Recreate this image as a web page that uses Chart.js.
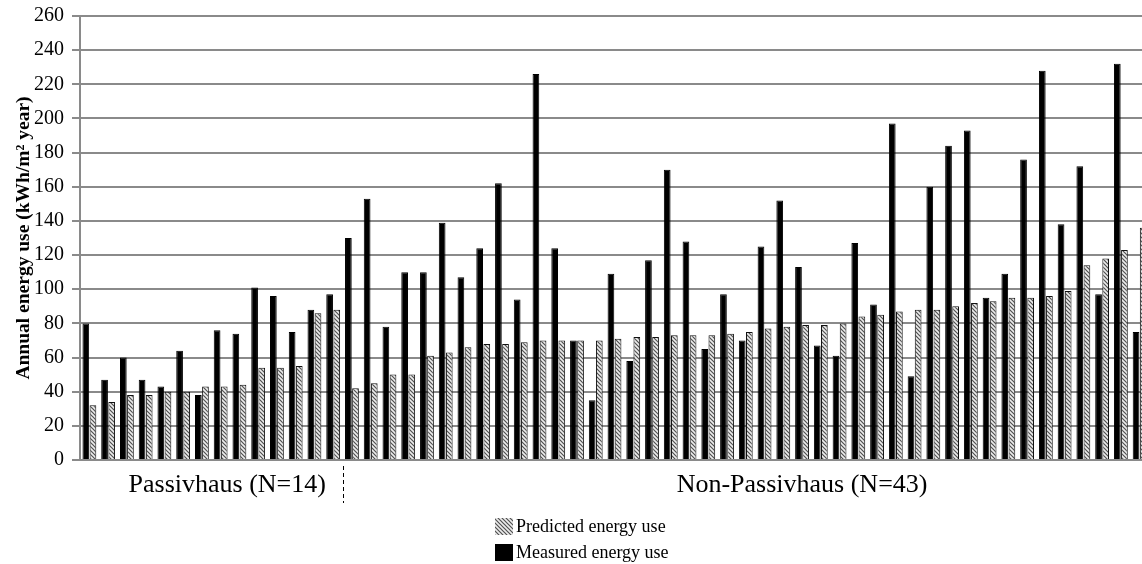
<!DOCTYPE html>
<html>
<head>
<meta charset="utf-8">
<script src="https://cdn.jsdelivr.net/npm/chart.js@4/dist/chart.umd.min.js"></script>
<style>
    html, body { margin: 0; padding: 0; background: #fff; overflow: hidden; }
    #wrap { width: 1152px; height: 564px; }
</style>
</head>
<body>
<div id="wrap"><canvas id="energyChart"></canvas></div>
<script>
// buildings, Passivhaus first then the rest
const buildings = [
    'P01', 'P02', 'P03', 'P04', 'P05', 'P06', 'P07', 'P08', 'P09', 'P10', 'P11', 'P12', 'P13', 'P14',
    'N01', 'N02', 'N03', 'N04', 'N05', 'N06', 'N07', 'N08', 'N09', 'N10', 'N11', 'N12', 'N13', 'N14',
    'N15', 'N16', 'N17', 'N18', 'N19', 'N20', 'N21', 'N22', 'N23', 'N24', 'N25', 'N26', 'N27', 'N28',
    'N29', 'N30', 'N31', 'N32', 'N33', 'N34', 'N35', 'N36', 'N37', 'N38', 'N39', 'N40', 'N41', 'N42', 'N43'
];

const measured = [
    80, 47, 60, 47, 43, 64, 38, 76, 74, 101, 96, 75, 88, 97,
    130, 153, 78, 110, 110, 139, 107, 124, 162, 94, 226, 124, 70, 35,
    109, 58, 117, 170, 128, 65, 97, 70, 125, 152, 113, 67, 61, 127,
    91, 197, 49, 160, 184, 193, 95, 109, 176, 228, 138, 172, 97, 232, 75
];

const predicted = [
    32, 34, 38, 38, 40, 40, 43, 43, 44, 54, 54, 55, 86, 88,
    42, 45, 50, 50, 61, 63, 66, 68, 68, 69, 70, 70, 70, 70,
    71, 72, 72, 73, 73, 73, 74, 75, 77, 78, 79, 79, 80, 84,
    85, 87, 88, 88, 90, 92, 93, 95, 95, 96, 99, 114, 118, 123, 136
];

const groupNames = ['Passivhaus (N=14)', 'Non-Passivhaus (N=43)'];
const groupSizes = [14, 43];
const yTicks = [0, 20, 40, 60, 80, 100, 120, 140, 160, 180, 200, 220, 240, 260];

const SERIF = '"Liberation Serif", "Times New Roman", serif';
const GRID = '#8a8a8a';

function makeHatch() {
    const c = document.createElement('canvas');
    c.width = 4;
    c.height = 4;
    const g = c.getContext('2d');
    g.fillStyle = '#ececec';
    g.fillRect(0, 0, 4, 4);
    g.strokeStyle = '#505050';
    g.lineWidth = 1.2;
    g.beginPath();
    g.moveTo(-1, -1); g.lineTo(5, 5);
    g.moveTo(-1, 3); g.lineTo(1, 5);
    g.moveTo(3, -1); g.lineTo(5, 1);
    g.stroke();
    return g.createPattern(c, 'repeat');
}

const hatch = makeHatch();

const extras = {
    id: 'extras',
    afterDraw(chart) {
        const { ctx, chartArea } = chart;
        const x = chart.scales.x;
        ctx.save();

        // group captions under the axis
        ctx.fillStyle = '#000';
        ctx.font = '26px ' + SERIF;
        ctx.textAlign = 'center';
        ctx.textBaseline = 'middle';
        ctx.fillText(groupNames[0], x.getPixelForValue(7.35), 485);
        ctx.fillText(groupNames[1], x.getPixelForValue(38.0), 485);

        // dashed divider between the two groups
        const xd = Math.round((x.getPixelForValue(groupSizes[0] - 1) + x.getPixelForValue(groupSizes[0])) / 2) + 0.5;
        ctx.strokeStyle = '#000';
        ctx.lineWidth = 1;
        ctx.setLineDash([4, 3]);
        ctx.beginPath();
        ctx.moveTo(xd, chartArea.bottom + 6);
        ctx.lineTo(xd, 503);
        ctx.stroke();
        ctx.setLineDash([]);

        // legend, stacked, predicted first
        ctx.font = '18px ' + SERIF;
        ctx.textAlign = 'left';
        const items = chart.data.datasets.slice().reverse();
        items.forEach((ds, i) => {
            const yy = 527 + i * 26;
            ctx.fillStyle = ds.backgroundColor;
            ctx.fillRect(495, yy - 9, 18, 17);
            ctx.fillStyle = '#000';
            ctx.fillText(ds.label, 516, yy);
        });
        ctx.restore();
    }
};

const ctx = document.getElementById('energyChart').getContext('2d');
new Chart(ctx, {
    type: 'bar',
    data: {
        labels: buildings,
        datasets: [{
            label: 'Measured energy use',
            data: measured,
            backgroundColor: '#000',
            borderColor: '#000',
            borderWidth: 1,
            barPercentage: 0.94,
            categoryPercentage: 0.76
        }, {
            label: 'Predicted energy use',
            data: predicted,
            backgroundColor: hatch,
            borderColor: '#111',
            borderWidth: 1,
            barPercentage: 0.94,
            categoryPercentage: 0.76
        }]
    },
    options: {
        responsive: true,
        maintainAspectRatio: false,
        animation: false,
        layout: { padding: { top: 16, right: 3, left: 0, bottom: 0 } },
        plugins: {
            legend: { display: false },
            tooltip: { enabled: false }
        },
        scales: {
            x: {
                grid: { display: false, drawTicks: false },
                border: { display: true, color: GRID, width: 2 },
                ticks: { display: false },
                afterFit: s => { s.height = 104; }
            },
            y: {
                min: 0,
                max: 260,
                afterBuildTicks: s => { s.ticks = yTicks.map(v => ({ value: v })); },
                afterFit: s => {
                    s.width = 80;
                    s.paddingTop = 0;
                    s.paddingBottom = 0;
                },
                grid: { color: GRID, lineWidth: 2, tickLength: 8 },
                border: { display: true, color: GRID, width: 2 },
                ticks: {
                    color: '#000',
                    padding: 8,
                    font: { family: SERIF, size: 20 }
                },
                title: {
                    display: true,
                    text: 'Annual energy use (kWh/m² year)',
                    color: '#000',
                    font: { family: SERIF, size: 19.5, weight: 'bold' },
                    padding: { top: 12, bottom: 0 }
                }
            }
        }
    },
    plugins: [extras]
});
</script>
</body>
</html>
